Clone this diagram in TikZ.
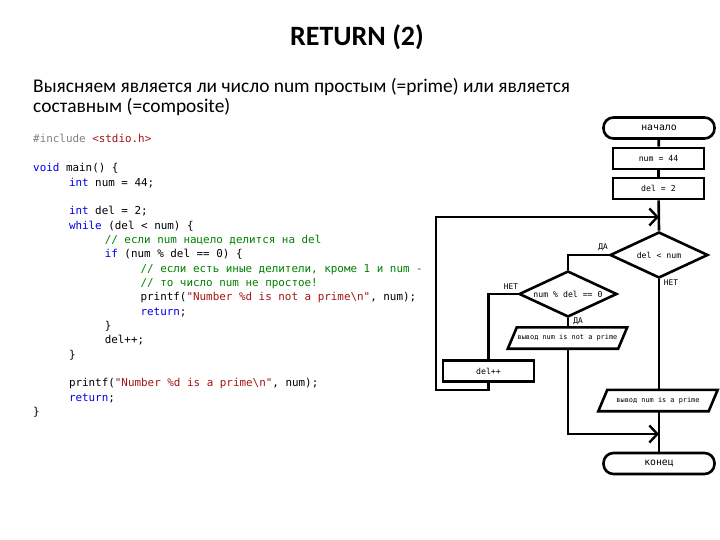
\documentclass[tikz,border=0pt]{standalone}
\usepackage{fontspec}
\setmainfont{Carlito}
\newfontfamily\codefont{DejaVu Sans Mono}
\usetikzlibrary{arrows.meta,shapes.geometric}
\definecolor{kw}{RGB}{0,0,230}
\definecolor{cm}{RGB}{0,128,0}
\definecolor{st}{RGB}{163,21,21}
\definecolor{pp}{RGB}{128,128,128}
\newcommand\codeline[4]{\node[code] (#1) at ({33+35.8*#2},{143+14.35*#3}) {#4};}
\newcommand\kwd[1]{\textcolor{kw}{#1}}
\newcommand\cmt[1]{\textcolor{cm}{#1}}
\newcommand\str[1]{\textcolor{st}{#1}}
\begin{document}
\begin{tikzpicture}[x=1pt,y=-1pt,
  code/.style={anchor=base west,inner sep=0pt,font=\codefont\fontsize{10.9}{12}\selectfont},
  fc/.style={line width=2.6pt},
  term/.style={fc,draw,rounded corners=10pt,minimum width=111pt,minimum height=21pt,inner sep=0pt,font=\codefont\fontsize{9.8}{11}\selectfont},
  proc/.style={fc,draw,minimum width=91pt,minimum height=21pt,inner sep=0pt,font=\codefont\fontsize{8.2}{10}\selectfont},
  dec/.style={fc,draw,diamond,aspect=2.13,minimum width=98pt,minimum height=46pt,inner sep=0pt,font=\codefont\fontsize{8.2}{10}\selectfont},
  io/.style={minimum width=110pt,minimum height=21pt,inner sep=0pt,font=\codefont\fontsize{6.9}{8}\selectfont},
  lbl/.style={inner sep=0pt,font=\codefont\fontsize{7.8}{9}\selectfont},
  arr/.style={fc,-{Straight Barb[length=8pt,width=17pt,line width=2.4pt]}},
]
\useasboundingbox (0,0) rectangle (720,540);
% header
\node[font=\fontsize{28}{32}\selectfont\bfseries] (title) at (357,37) {RETURN (2)};
\node[anchor=base west,inner sep=0pt,font=\fontsize{19.4}{22}\selectfont] (sub1) at (33,93) {Выясняем является ли число num простым (=prime) или является};
\node[anchor=base west,inner sep=0pt,font=\fontsize{19.4}{22}\selectfont] (sub2) at (33,113) {составным (=composite)};
% code
\codeline{l0}{0}{0}{\textcolor{pp}{\#include} \str{<stdio.h>}}
\codeline{l2}{0}{2}{\kwd{void} main() \{}
\codeline{l3}{1}{3}{\kwd{int} num = 44;}
\codeline{l5}{1}{5}{\kwd{int} del = 2;}
\codeline{l6}{1}{6}{\kwd{while} (del < num) \{}
\codeline{l7}{2}{7}{\cmt{// если num нацело делится на del}}
\codeline{l8}{2}{8}{\kwd{if} (num \% del == 0) \{}
\codeline{l9}{3}{9}{\cmt{// если есть иные делители, кроме 1 и num -}}
\codeline{l10}{3}{10}{\cmt{// то число num не простое!}}
\codeline{l11}{3}{11}{printf(\str{"Number \%d is not a prime\textbackslash n"}, num);}
\codeline{l12}{3}{12}{\kwd{return};}
\codeline{l13}{2}{13}{\}}
\codeline{l14}{2}{14}{del++;}
\codeline{l15}{1}{15}{\}}
\codeline{l17}{1}{17}{printf(\str{"Number \%d is a prime\textbackslash n"}, num);}
\codeline{l18}{1}{18}{\kwd{return};}
\codeline{l19}{0}{19}{\}}
% flowchart
\node[term] (start) at (659,128) {начало};
\node[proc] (n44) at (658.5,158.5) {num = 44};
\node[proc] (d2) at (658.5,188.5) {del = 2};
\node[dec] (c1) at (659,255) {del < num};
\node[dec] (c2) at (568,294) {num \% del == 0};
\node[io] (notp) at (567.5,338) {вывод num is not a prime};
\draw[fc] ([xshift=4.5pt]notp.north west) -- ([xshift=4.5pt]notp.north east) -- ([xshift=-4.5pt]notp.south east) -- ([xshift=-4.5pt]notp.south west) -- cycle;
\node[proc] (inc) at (488.5,371) {del++};
\node[io] (isp) at (658,400.5) {вывод num is a prime};
\draw[fc] ([xshift=4.5pt]isp.north west) -- ([xshift=4.5pt]isp.north east) -- ([xshift=-4.5pt]isp.south east) -- ([xshift=-4.5pt]isp.south west) -- cycle;
\node[term] (fin) at (659,463.5) {конец};
\coordinate (loopin) at (659,217);
\coordinate (joinin) at (659,434);
% connectors
\draw[fc] (start) -- (n44);
\draw[fc] (n44) -- (d2);
\draw[fc] (d2) -- (c1.north);
\draw[fc] (c1.west) -| (c2.north);
\draw[fc] (c1.south) -- (c1.south |- isp.north);
\draw[fc] (c1.south |- isp.south) -- (fin.north);
\draw[fc] (c2.south) -- (notp.north -| c2.south);
\draw[fc] (c2.west) -| (inc.north);
\draw[arr] (notp.south -| c2.south) |- (joinin);
\draw[arr] (inc.south) -- (inc.south |- 0,390) -- (436,390) -- (436,217) -- (loopin);
% labels
\node[lbl] (lda1) at (603,247) {ДА};
\node[lbl] (lnet1) at (671,283) {НЕТ};
\node[lbl] (lnet2) at (511,287) {НЕТ};
\node[lbl] (lda2) at (578,321) {ДА};
\end{tikzpicture}
\end{document}
